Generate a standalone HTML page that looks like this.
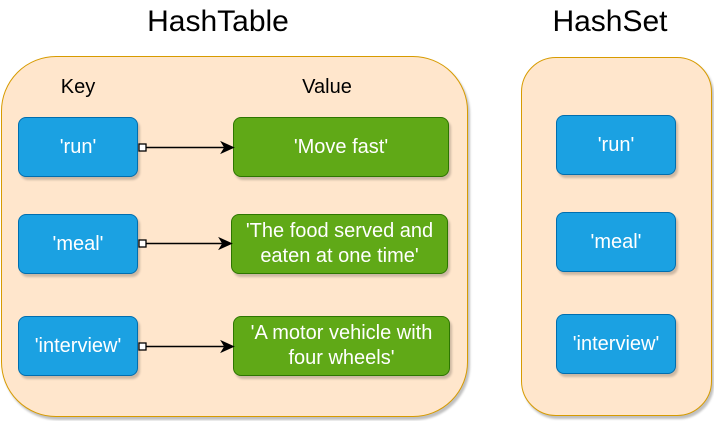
<!DOCTYPE html>
<html><head><style>
body{margin:0;width:714px;height:421px;background:#fff;position:relative;font-family:"Liberation Sans",sans-serif;overflow:hidden}
.c{position:absolute;background:#ffe6cc;border:1px solid #d79b00;box-sizing:border-box;box-shadow:2px 3px 2px rgba(0,0,0,0.25)}
.b{position:absolute;box-sizing:border-box;border-radius:8px;color:#fff;font-size:20px;display:flex;align-items:center;justify-content:center;text-align:center;line-height:25px;box-shadow:2px 3px 2px rgba(0,0,0,0.2)}
.k{background:#1ba1e2;border:1px solid #006eaf;width:120px;height:60px}
.g{background:#60a917;border:1px solid #2d7600;height:60px}
.t{position:absolute;color:#000;text-align:center}
</style></head><body>
<div class="t" style="left:68px;top:5px;width:300px;font-size:30px">HashTable</div>
<div class="t" style="left:510px;top:5px;width:200px;font-size:30px">HashSet</div>
<div class="c" style="left:1px;top:56px;width:467px;height:361px;border-radius:55px"></div>
<div class="c" style="left:521px;top:57px;width:191px;height:359px;border-radius:35px"></div>
<div class="t" style="left:38px;top:76px;width:80px;font-size:20px">Key</div>
<div class="t" style="left:287px;top:76px;width:80px;font-size:20px">Value</div>
<div class="b k" style="left:18px;top:117px">'run'</div>
<div class="b k" style="left:18px;top:214px">'meal'</div>
<div class="b k" style="left:18px;top:316px">'interview'</div>
<div class="b g" style="left:233px;top:117px;width:216px">'Move fast'</div>
<div class="b g" style="left:231px;top:214px;width:217px">'The food served and<br>eaten at one time'</div>
<div class="b g" style="left:233px;top:316px;width:217px">'A motor vehicle with<br>four wheels'</div>
<div class="b k" style="left:556px;top:115px">'run'</div>
<div class="b k" style="left:556px;top:212px">'meal'</div>
<div class="b k" style="left:556px;top:314px">'interview'</div>
<svg width="714" height="421" style="position:absolute;left:0;top:0">
<g stroke="#000" stroke-width="1.5" fill="#000">
<line x1="146" y1="147.5" x2="224" y2="147.5"/><path d="M233 147.5 L222 142.5 L225 147.5 L222 152.5Z"/>
<line x1="146" y1="243.5" x2="222" y2="243.5"/><path d="M231 243.5 L220 238.5 L223 243.5 L220 248.5Z"/>
<line x1="146" y1="346.5" x2="224" y2="346.5"/><path d="M233 346.5 L222 341.5 L225 346.5 L222 351.5Z"/>
</g>
<g stroke="#000" stroke-width="1.3" fill="#fff">
<rect x="139" y="144" width="7" height="7"/>
<rect x="139" y="240" width="7" height="7"/>
<rect x="139" y="343" width="7" height="7"/>
</g>
</svg>
</body></html>
